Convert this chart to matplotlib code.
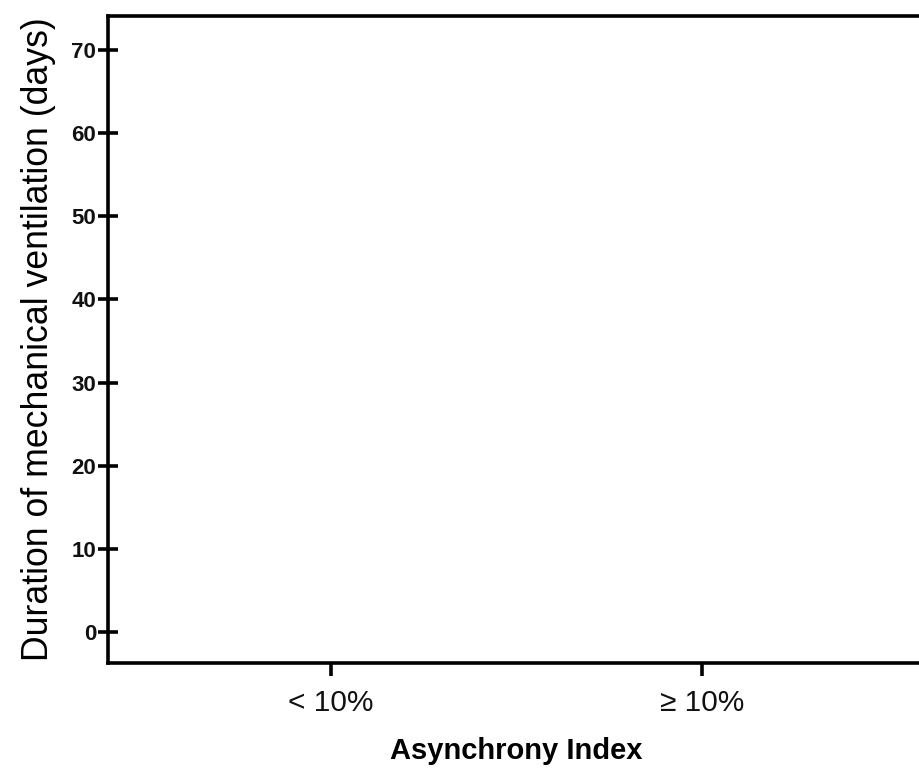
import matplotlib
matplotlib.use("Agg")
import matplotlib.pyplot as plt

categories = ['< 10%', '\u2265 10%']
y_ticks = [0, 10, 20, 30, 40, 50, 60, 70]

plt.rcParams['font.family'] = ['Liberation Sans', 'DejaVu Sans']

fig = plt.figure(figsize=(9.2, 7.69), dpi=100)
ax = fig.add_axes([108/920, 106/769, 817/920, (663-16)/769])

ax.set_xlim(-0.6, 1.6)
ax.set_ylim(-3.73, 74.1)

ax.set_xticks(range(len(categories)))
ax.set_xticklabels(categories, fontsize=21.5, color='#111111')
ax.set_yticks(y_ticks)
ax.set_yticklabels([str(t) for t in y_ticks], fontsize=16, fontweight='bold', color='#111111')

for s in ax.spines.values():
    s.set_linewidth(2.6)
    s.set_color('black')
ax.spines['right'].set_visible(False)

ax.tick_params(axis='y', direction='inout', length=15, width=2.6, pad=1)
ax.tick_params(axis='x', direction='out', length=9, width=2.6, pad=10)

ax.set_xlabel('Asynchrony Index', fontsize=21, fontweight='bold', labelpad=14)
ax.set_ylabel('Duration of mechanical ventilation (days)', fontsize=25.7, labelpad=11)

fig.savefig('out.png', dpi=100)
